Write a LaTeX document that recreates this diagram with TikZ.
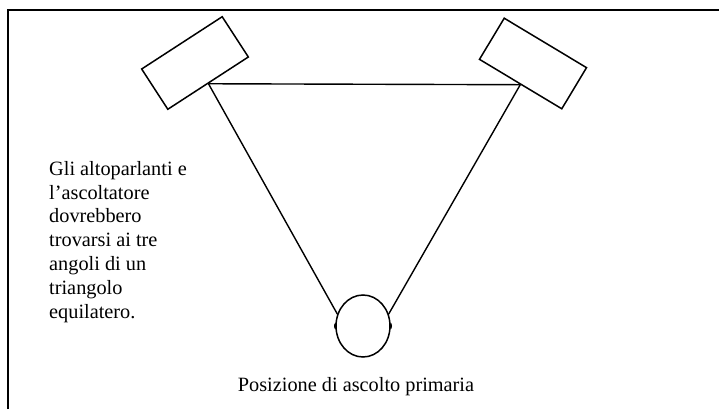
\documentclass[tikz,border=0pt]{standalone}
\usepackage{fontspec}
\setmainfont{Liberation Serif}
\usepackage{tikz}
\usetikzlibrary{
  calc,
  positioning,
  shapes.geometric
}
\colorlet{ink}{black}
\tikzset{
  connector/.style={draw=ink, line width=1.4pt},
  frameline/.style={draw=ink, line width=2pt},
  speakerbox/.style={
    draw=ink,
    fill=white,
    rectangle,
    line width=1.5pt,
    minimum width=96pt,
    minimum height=48pt,
    inner sep=0pt
  },
  headshape/.style={
    ellipse,
    draw=ink,
    line width=1.5pt,
    minimum width=54pt,
    minimum height=62pt,
    inner sep=0pt
  },
  earblob/.style={ellipse, fill=ink, minimum width=2.5pt, minimum height=6pt, inner sep=0pt},
  caption/.style={font=\fontsize{20.3}{23.8}\selectfont, text=ink, inner sep=0pt}
}

\begin{document}
\begin{tikzpicture}[x=1pt,y=-1pt]
  \useasboundingbox (0,0) rectangle (719,409);
  \draw[frameline] (8,409) -- (8,10) -- (719,10);

  \node[speakerbox, rotate=33] (spkL) at (195,63) {};
  \node[speakerbox, rotate=-31] (spkR) at (533,63.5) {};
  \node[headshape] (head) at (363,326) {};
  \node[earblob] (earL) at (head.west) {};
  \node[earblob] (earR) at (head.east) {};

  \draw[connector] (spkL.south) -- (spkR.south);
  \draw[connector] (spkL.south) -- (head.155);
  \draw[connector] (spkR.south) -- (head.25);

  \node[caption, anchor=north west, align=left] (note) at (49,161)
    {Gli altoparlanti e\\l’ascoltatore\\dovrebbero\\trovarsi ai tre\\angoli di un\\triangolo\\equilatero.};
  \node[caption, anchor=base] (place) at (356,391) {Posizione di ascolto primaria};
\end{tikzpicture}
\end{document}
